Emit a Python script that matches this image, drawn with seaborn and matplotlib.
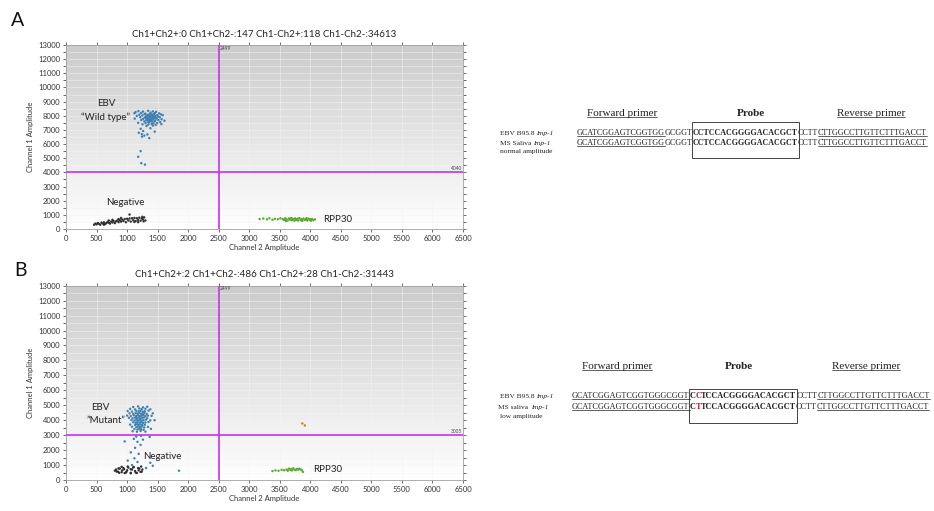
import numpy as np
import pandas as pd
import matplotlib
matplotlib.use("Agg")
import matplotlib.pyplot as plt
import seaborn as sns
from matplotlib.colors import LinearSegmentedColormap
from matplotlib.patches import Rectangle

# ---------------- droplet data (Channel 2 amplitude, Channel 1 amplitude) ----------------
# panel A
ebv_a_x = [1140, 1185, 1260, 1345, 1420, 1475,
           1120, 1230, 1300, 1385, 1455, 1525,
           1200, 1285, 1330, 1365, 1405, 1440, 1495, 1555,
           1160, 1250, 1310, 1345, 1372, 1395, 1425, 1462, 1505, 1585,
           1215, 1290, 1322, 1352, 1383, 1412, 1435, 1475, 1535,
           1125, 1262, 1305, 1338, 1362, 1398, 1444, 1482, 1565,
           1232, 1312, 1335, 1368, 1392, 1422, 1458, 1512, 1612,
           1282, 1342, 1378, 1408, 1452, 1542,
           1182, 1302, 1358, 1432, 1492,
           1252, 1348, 1402, 1468, 1562,
           1318, 1422, 1222, 1382, 1262, 1452, 1192, 1242, 1332, 1282, 1245, 1362,
           1222, 1182, 1232, 1292]
ebv_a_y = [8260, 8330, 8300, 8350, 8310, 8280,
           8180, 8200, 8150, 8220, 8190, 8170,
           8080, 8120, 8060, 8110, 8090, 8130, 8050, 8100,
           7990, 8020, 7960, 8010, 7980, 8030, 7970, 8000, 7950, 8040,
           7900, 7880, 7920, 7870, 7910, 7890, 7930, 7860, 7900,
           7800, 7780, 7820, 7790, 7810, 7770, 7830, 7800, 7760,
           7700, 7690, 7720, 7680, 7710, 7730, 7670, 7700, 7650,
           7600, 7580, 7620, 7590, 7610, 7560,
           7500, 7480, 7520, 7470, 7490,
           7400, 7380, 7420, 7360, 7410,
           7280, 7310, 7080, 7120, 6920, 6880, 6800, 6700, 6680, 6600, 6520, 6420,
           5500, 5100, 4650, 4550]

neg_a_x = [460, 480, 500, 520, 540, 560, 580, 600, 620, 640, 660, 680, 700, 720, 740,
           760, 780, 800, 820, 840, 860, 880, 900, 920, 940, 960, 980, 1000, 1020,
           1040, 1060, 1080, 1100, 1120, 1140, 1160, 1180, 1200, 1220, 1240, 1260,
           1280, 1300, 1040, 860, 760, 700, 1250, 1120, 620, 900, 1180, 1270]
neg_a_y = [300, 380, 330, 420, 360, 300, 450, 390, 470, 350, 420, 500, 440, 380, 520,
           460, 560, 410, 540, 600, 480, 620, 520, 660, 560, 700, 480, 720, 600,
           740, 520, 760, 620, 780, 560, 760, 640, 800, 580, 740, 680,
           820, 600, 1020, 700, 650, 600, 860, 500, 300, 780, 480, 540]

rpp_a_x = [3170, 3230, 3290, 3330, 3380, 3420, 3470, 3510,
           3550, 3570, 3590, 3610, 3630, 3650, 3670, 3690, 3700, 3720, 3740, 3750,
           3770, 3790, 3800, 3820, 3840, 3860, 3870, 3890, 3910, 3930, 3950, 3970,
           3990, 4010, 4030, 4050, 4075, 3600, 3680, 3760, 3850, 3940, 4000]
rpp_a_y = [700, 740, 680, 760, 650, 720, 690, 760,
           700, 640, 760, 680, 600, 740, 660, 780, 620, 700, 580, 750,
           640, 720, 600, 770, 660, 700, 580, 740, 630, 690, 600, 720,
           650, 580, 700, 620, 680, 560, 720, 690, 610, 760, 700]

# panel B
ebv_b_x = [1100, 1180, 1260, 1330,
           1050, 1130, 1200, 1240, 1300, 1380,
           1010, 1080, 1150, 1190, 1220, 1260, 1290, 1350,
           1040, 1100, 1140, 1170, 1200, 1230, 1250, 1280, 1320, 1420,
           1000, 1060, 1110, 1150, 1180, 1210, 1240, 1270, 1300, 1340, 1400,
           1030, 1090, 1130, 1160, 1190, 1220, 1250, 1280, 1330, 1450,
           1070, 1120, 1150, 1180, 1210, 1240, 1270, 1310, 1380,
           1100, 1140, 1170, 1200, 1230, 1260, 1300, 1350,
           1050, 1130, 1160, 1190, 1220, 1250, 1290,
           1080, 1150, 1180, 1210, 1240, 1280, 1340,
           1120, 1170, 1200, 1230, 1270, 1390,
           1090, 1160, 1220, 1300,
           1150, 1230, 1110, 1260, 1370, 1170, 960, 1220, 1130, 1060, 1190,
           1120, 1010, 1170, 1380, 1420, 1310, 1850, 1080]
ebv_b_y = [4880, 4920, 4860, 4900,
           4760, 4720, 4780, 4740, 4770, 4730,
           4610, 4580, 4630, 4590, 4620, 4570, 4600, 4640,
           4460, 4430, 4480, 4440, 4470, 4420, 4450, 4490, 4430, 4460,
           4310, 4280, 4330, 4290, 4320, 4270, 4300, 4340, 4280, 4310, 4290,
           4160, 4130, 4180, 4140, 4170, 4120, 4150, 4190, 4140, 4000,
           4010, 3980, 4030, 3990, 4020, 3970, 4000, 4040, 3990,
           3860, 3830, 3880, 3840, 3870, 3820, 3850, 3880,
           3710, 3680, 3730, 3690, 3720, 3670, 3700,
           3560, 3530, 3580, 3540, 3570, 3520, 3550,
           3410, 3380, 3430, 3390, 3360, 3420,
           3260, 3230, 3280, 3240,
           2900, 2950, 2750, 2700, 2880, 2550, 2580, 2350, 2150, 1850, 1750,
           1450, 1300, 1200, 1150, 950, 800, 620, 1000]

neg_b_x = [800, 820, 850, 880, 910, 940, 980, 1020, 1060, 1100, 1140, 1180, 1220, 1250,
           830, 870, 910, 960, 1010, 1060, 1110, 1160, 1200, 1240,
           860, 920, 990, 1060, 1130, 1190, 1230, 1000, 1080, 950]
neg_b_y = [620, 700, 560, 760, 520, 800, 500, 830, 480, 840, 500, 800, 540, 700,
           560, 480, 880, 460, 900, 450, 870, 470, 760, 560,
           780, 640, 560, 720, 600, 650, 900, 650, 700, 720]

rpp_b_x = [3380, 3430, 3480, 3530, 3570, 3610, 3630, 3650, 3670, 3690, 3700,
           3720, 3740, 3760, 3780, 3800, 3820, 3840, 3860, 3880]
rpp_b_y = [600, 640, 620, 680, 650, 700, 620, 760, 680, 720, 640,
           780, 700, 660, 740, 690, 760, 710, 650, 540]

dbl_b_x = [3870, 3910]
dbl_b_y = [3780, 3650]

# thresholds and well counts
thr_ch2 = [2499, 2499]
thr_ch1 = [4040, 3005]
titles = ["Ch1+Ch2+:0 Ch1+Ch2-:147 Ch1-Ch2+:118 Ch1-Ch2-:34613",
          "Ch1+Ch2+:2 Ch1+Ch2-:486 Ch1-Ch2+:28 Ch1-Ch2-:31443"]

# sequences
fwd_seq = "GCATCGGAGTCGGTGGGCGGT"
probe_seq = "CCTCCACGGGGACACGCT"
spacer_seq = "CCTT"
rev_seq = "CTTGGCCTTGTTCTTTGACCT"

colors = {"EBV": "#3d7fb0", "Negative": "#2e2e2e", "RPP30": "#5aa832", "Double": "#b08c1c"}
magenta = "#c832e6"

sns.set_theme(style="white")
plt.rcParams['font.family'] = ['Lato', 'DejaVu Sans']


def make_df(groups):
    frames = []
    for name, xs, ys in groups:
        frames.append(pd.DataFrame({"ch2": xs, "ch1": ys, "cluster": name}))
    return pd.concat(frames, ignore_index=True)


df_a = make_df([("Negative", neg_a_x, neg_a_y), ("EBV", ebv_a_x, ebv_a_y), ("RPP30", rpp_a_x, rpp_a_y)])
df_b = make_df([("Negative", neg_b_x, neg_b_y), ("EBV", ebv_b_x, ebv_b_y),
                ("RPP30", rpp_b_x, rpp_b_y), ("Double", dbl_b_x, dbl_b_y)])

bg_cmap = LinearSegmentedColormap.from_list("bg", ["#ffffff", "#cbcbcb"])


def draw_panel(ax, df, t2, t1, title):
    ax.imshow(np.linspace(0, 1, 256)[:, None], cmap=bg_cmap, origin="lower",
              extent=(0, 6500, 0, 13000), aspect="auto", zorder=0)
    for v in range(500, 6500, 500):
        ax.axvline(v, color="#f4f4f4", lw=0.5, alpha=0.7, zorder=1)
    for h in range(500, 13000, 500):
        ax.axhline(h, color="#f4f4f4", lw=0.5, alpha=0.7, zorder=1)
    sns.scatterplot(data=df, x="ch2", y="ch1", hue="cluster", palette=colors, s=3,
                    linewidth=0, legend=False, ax=ax, zorder=3)
    ax.axvline(t2, color=magenta, lw=1.2, zorder=4)
    ax.axhline(t1, color=magenta, lw=1.2, zorder=4)
    ax.text(t2 + 20, 12950, str(t2), fontsize=3.5, va="top", ha="left", color="#444", zorder=5)
    ax.text(6480, t1 + 80, str(t1), fontsize=3.5, va="bottom", ha="right", color="#444", zorder=5)
    ax.set_xlim(0, 6500)
    ax.set_ylim(0, 13000)
    ax.set_xticks(range(0, 6501, 500))
    ax.set_yticks(range(0, 13001, 1000))
    ax.set_yticks(range(500, 13000, 1000), minor=True)
    ax.tick_params(axis="both", labelsize=5.5, colors="#333", length=2, width=0.5, pad=2,
                   direction="out", top=True, right=True, bottom=True, left=True)
    ax.tick_params(axis="both", which="minor", length=2, width=0.5, right=True, left=True)
    ax.set_xlabel("Channel 2 Amplitude", fontsize=5.5, color="#333", labelpad=2)
    ax.set_ylabel("Channel 1 Amplitude", fontsize=5.5, color="#333", labelpad=3)
    ax.set_title(title, fontsize=7, color="#222", pad=6)
    for s in ax.spines.values():
        s.set_color("#a0a0a0")
        s.set_linewidth(0.6)


fig = plt.figure(figsize=(9.34, 5.11), dpi=100)
ax_a = fig.add_axes([0.0707, 0.5519, 0.4250, 0.3600])
ax_b = fig.add_axes([0.0707, 0.0607, 0.4250, 0.3802])

draw_panel(ax_a, df_a, thr_ch2[0], thr_ch1[0], titles[0])
draw_panel(ax_b, df_b, thr_ch2[1], thr_ch1[1], titles[1])

lab = dict(fontsize=7, color="#222", ha="center", va="center", zorder=6)
ax_a.text(655, 8900, "EBV", **lab)
ax_a.text(655, 7910, "\u201cWild type\u201d", **lab)
ax_a.text(966, 1840, "Negative", **lab)
ax_a.text(4210, 640, "RPP30", **{**lab, "ha": "left"})
ax_b.text(560, 4880, "EBV", **lab)
ax_b.text(655, 3950, "\u201dMutant\u201d", **lab)
ax_b.text(1570, 1540, "Negative", **lab)
ax_b.text(4045, 670, "RPP30", **{**lab, "ha": "left"})

# overlay axes in pixel coordinates for letters and sequence alignments
ov = fig.add_axes([0, 0, 1, 1])
ov.set_xlim(0, 934)
ov.set_ylim(511, 0)
ov.axis("off")
ov.patch.set_alpha(0)

ov.text(18, 20, "A", fontsize=14, ha="center", va="center", color="#111")
ov.text(20, 270, "B", fontsize=14, ha="center", va="center", color="#111")

fig.canvas.draw()
renderer = fig.canvas.get_renderer()
SERIF = "Liberation Serif"


def draw_parts(x, y, parts, size):
    # parts: (text, weight, style, underline, color); returns x positions of each part start + end
    xs = []
    for text, weight, style, under, color in parts:
        xs.append(x)
        t = ov.text(x, y, text, fontsize=size, family=SERIF, fontweight=weight, fontstyle=style,
                    color=color, ha="left", va="baseline")
        w = t.get_window_extent(renderer).width
        if under:
            ov.plot([x, x + w], [y + 1.3, y + 1.3], color=color, lw=0.5)
        x += w
    xs.append(x)
    return xs


def seq_parts(fwd_under, probe_parts):
    k = "#222"
    parts = [(fwd_seq[:fwd_under], "normal", "normal", True, k),
             (fwd_seq[fwd_under:], "normal", "normal", False, k)]
    parts += probe_parts
    parts += [(spacer_seq, "normal", "normal", False, k),
              (rev_seq, "normal", "normal", True, k)]
    return parts


def headers(y, x_fwd, x_probe, x_rev, size=8):
    for x, text, weight, under in [(x_fwd, "Forward primer", "normal", True),
                                   (x_probe, "Probe", "bold", False),
                                   (x_rev, "Reverse primer", "normal", True)]:
        draw_parts(x, y, [(text, weight, "normal", under, "#222")], size)


k = "#222"
red = "#e01010"
# ---- panel A alignment
headers(116, 587, 737, 837)
probe_a = [(probe_seq, "bold", "normal", False, k)]
r1 = draw_parts(577, 135, seq_parts(16, probe_a), 5.75)
r2 = draw_parts(577, 145, seq_parts(16, probe_a), 5.75)
draw_parts(500, 135, [("EBV B95.8 ", "normal", "normal", False, k), ("lmp-1", "normal", "italic", False, k)], 5.3)
draw_parts(500, 145, [("MS Saliva ", "normal", "normal", False, k), ("lmp-1", "normal", "italic", False, k)], 5.3)
draw_parts(500, 153, [("normal amplitude", "normal", "normal", False, k)], 5.3)
ov.add_patch(Rectangle((r1[2] - 1, 122), r1[3] - r1[2] + 2, 36, fill=False, ec="#444", lw=0.7))

# ---- panel B alignment
headers(369, 582, 725, 832)
probe_b1 = [(probe_seq[0], "bold", "normal", False, k), (probe_seq[1], "bold", "normal", False, red),
            (probe_seq[2:], "bold", "normal", False, k)]
probe_b2 = [(probe_seq[0], "bold", "normal", False, k), ("T", "bold", "normal", False, red),
            (probe_seq[2:], "bold", "normal", False, k)]
s1 = draw_parts(572, 398, seq_parts(21, probe_b1), 5.9)
s2 = draw_parts(572, 409, seq_parts(21, probe_b2), 5.9)
draw_parts(500, 398, [("EBV B95.8 ", "normal", "normal", False, k), ("lmp-1", "normal", "italic", False, k)], 5.3)
draw_parts(498, 409, [("MS saliva  ", "normal", "normal", False, k), ("lmp-1", "normal", "italic", False, k)], 5.3)
ov.text(521, 418, "low amplitude", fontsize=5.3, family=SERIF, ha="center", va="baseline", color=k)
ov.add_patch(Rectangle((s1[2] - 1, 389), s1[5] - s1[2] + 2, 34, fill=False, ec="#444", lw=0.7))

fig.savefig("out.png", dpi=100)
